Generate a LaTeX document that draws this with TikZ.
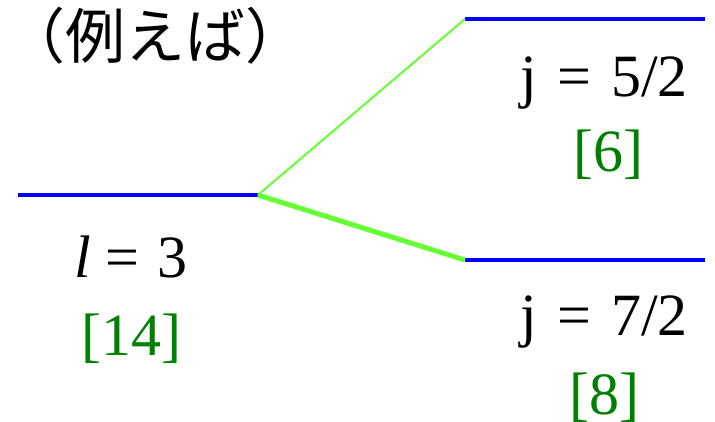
\documentclass[tikz,border=0pt]{standalone}
\usepackage{fontspec}
\setmainfont{Liberation Serif}
\newfontfamily\numfont{Liberation Serif}
\newfontfamily\jpfont{Noto Sans CJK JP}
\usepackage{xcolor}
\usetikzlibrary{positioning}
\definecolor{levelblue}{RGB}{0, 0, 255}
\definecolor{splitgreen}{RGB}{102, 255, 51}
\definecolor{degengreen}{RGB}{0, 128, 0}
\newcommand\qnumfont{\numfont\fontsize{60}{60}\selectfont\spaceskip=0.34em\relax}

\tikzset{
    level/.style={draw=levelblue, line width=3.8pt},
    split/.style={draw=splitgreen},
    qnum/.style={anchor=base, inner sep=0pt, font=\qnumfont},
    degen/.style={qnum, text=degengreen}
}

\begin{document}
\begin{tikzpicture}[x=1pt, y=1pt]
    \useasboundingbox (0,0) rectangle (715,421);
    % levels
    \coordinate (lA) at (18,226);
    \coordinate (lB) at (258,226);
    \coordinate (uA) at (465,402);
    \coordinate (uB) at (705,402);
    \coordinate (dA) at (465,161);
    \coordinate (dB) at (705,161);
    \draw[level] (lA) -- (lB);
    \draw[level] (uA) -- (uB);
    \draw[level] (dA) -- (dB);
    % splitting
    \draw[split, line width=2pt] (lB) -- (uA);
    \draw[split, line width=5pt] (lB) -- (dA);
    % labels
    \node[anchor=base west, inner sep=0pt, font=\jpfont\fontsize{60}{60}\selectfont] (title) at (5,362) {（例えば）};
    \node[qnum] (lval) at (131,144) {\textit{l}\hspace{0.25em}=\hspace{0.3em}3};
    \node[degen] (lnum) at (131,66) {[14]};
    \node[qnum] (uval) at (604,324) {j = 5/2};
    \node[degen] (unum) at (608,249) {[6]};
    \node[qnum] (dval) at (604,86) {j = 7/2};
    \node[degen] (dnum) at (604,7) {[8]};
\end{tikzpicture}
\end{document}
